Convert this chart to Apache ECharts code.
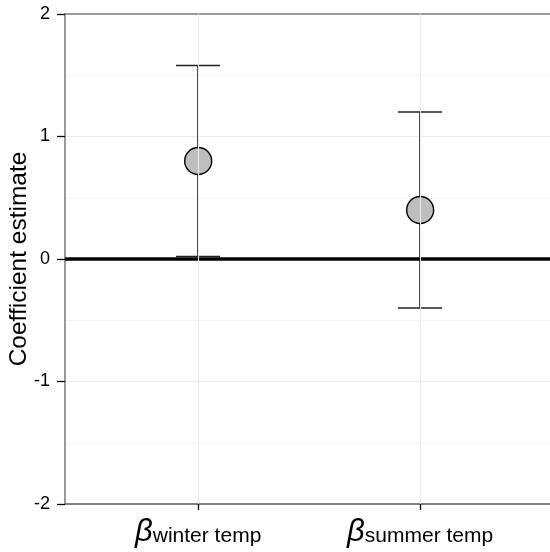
<!DOCTYPE html>
<html>
<head>
<meta charset="utf-8">
<script src="https://cdn.jsdelivr.net/npm/echarts@6/dist/echarts.min.js"></script>
<style>
  html, body { margin: 0; padding: 0; background: #fff; }
  #chart { width: 550px; height: 552px; }
</style>
</head>
<body>
<div id="chart"></div>
<script>
// Coefficient estimates with their interval bounds
const terms = ['winter temp', 'summer temp'];
const estimates = [0.8, 0.4];
const lowerBounds = [0.02, -0.4];
const upperBounds = [1.58, 1.2];
const yTicks = [-2, -1, 0, 1, 2];

// Each term sits at integer position 1, 2, ... on a numeric x scale
const positions = terms.map((t, i) => i + 1);
const FONT = '"Liberation Sans", Arial, Helvetica, sans-serif';

const chart = echarts.init(document.getElementById('chart'), null, { renderer: 'canvas' });

const intervalData = terms.map((t, i) => [positions[i], lowerBounds[i], upperBounds[i]]);
const pointData = terms.map((t, i) => [positions[i], estimates[i]]);

chart.setOption({
  backgroundColor: '#ffffff',
  animation: false,
  grid: { left: 65, right: 0, top: 14, bottom: 48, containLabel: false, outerBoundsMode: 'none' },
  xAxis: [{
    type: 'value',
    min: 0.4,
    max: 2.585,
    axisLine: { show: true, onZero: false, lineStyle: { color: '#808080', width: 1.8 } },
    axisTick: { show: true, customValues: positions, length: 6, lineStyle: { color: '#000', width: 1.3 } },
    splitLine: { show: false },
    axisLabel: {
      customValues: positions,
      margin: 13,
      formatter: v => '{b|β}{s|' + terms[Math.round(v) - 1] + '}',
      rich: {
        b: { fontFamily: FONT, fontStyle: 'italic', fontSize: 31, color: '#000', verticalAlign: 'top', lineHeight: 34 },
        s: { fontFamily: FONT, fontSize: 21, color: '#000', verticalAlign: 'top', padding: [9, 0, 0, 0], lineHeight: 34 }
      }
    }
  }, {
    type: 'value',
    position: 'top',
    min: 0.4,
    max: 2.585,
    axisLine: { show: true, onZero: false, lineStyle: { color: '#808080', width: 1.6 } },
    axisTick: { show: false },
    axisLabel: { show: false },
    splitLine: { show: false }
  }],
  yAxis: {
    type: 'value',
    min: yTicks[0],
    max: yTicks[yTicks.length - 1],
    interval: 1,
    name: 'Coefficient estimate',
    nameLocation: 'middle',
    nameGap: 33,
    nameMoveOverlap: false,
    nameRotate: 90,
    nameTextStyle: { fontFamily: FONT, fontSize: 24.5, color: '#000' },
    axisLine: { show: true, onZero: false, lineStyle: { color: '#808080', width: 1.6 } },
    axisTick: { show: true, length: 8, lineStyle: { color: '#000', width: 1.3 } },
    axisLabel: { fontFamily: FONT, fontSize: 18, color: '#000', margin: 15 },
    splitLine: { show: true, lineStyle: { color: '#ebebeb', width: 1 } },
    minorTick: { show: false, splitNumber: 2 },
    minorSplitLine: { show: true, lineStyle: { color: '#f5f5f5', width: 1 } }
  },
  series: [
    {
      // vertical grid lines at each term
      type: 'line',
      data: [],
      silent: true,
      z: 1,
      markLine: {
        silent: true,
        symbol: 'none',
        label: { show: false },
        animation: false,
        data: positions.map(p => ({ xAxis: p, lineStyle: { color: '#ebebeb', width: 1, type: 'solid' } }))
      }
    },
    {
      // interval whiskers with end caps
      type: 'custom',
      z: 3,
      data: intervalData,
      renderItem: (params, api) => {
        const x = api.value(0);
        const lo = api.coord([x, api.value(1)]);
        const hi = api.coord([x, api.value(2)]);
        const cx = Math.round(lo[0]);
        const half = 22;
        const stem = { stroke: '#000', lineWidth: 1.4 };
        const cap = { stroke: '#222', lineWidth: 1.4 };
        return {
          type: 'group',
          children: [
            { type: 'line', shape: { x1: cx, y1: lo[1], x2: cx, y2: hi[1] }, style: stem },
            { type: 'line', shape: { x1: cx - half, y1: hi[1], x2: cx + half, y2: hi[1] }, style: cap },
            { type: 'line', shape: { x1: cx - half, y1: lo[1], x2: cx + half, y2: lo[1] }, style: cap }
          ]
        };
      }
    },
    {
      type: 'scatter',
      z: 4,
      data: pointData,
      symbol: 'circle',
      symbolSize: 27,
      itemStyle: { color: '#bebebe', borderColor: '#000', borderWidth: 1.4, opacity: 1 },
      markLine: {
        // reference line at zero
        silent: true,
        symbol: 'none',
        label: { show: false },
        animation: false,
        z: 2,
        lineStyle: { color: '#000', width: 3.5, type: 'solid' },
        data: [{ yAxis: 0 }]
      }
    }
  ]
});
</script>
</body>
</html>
